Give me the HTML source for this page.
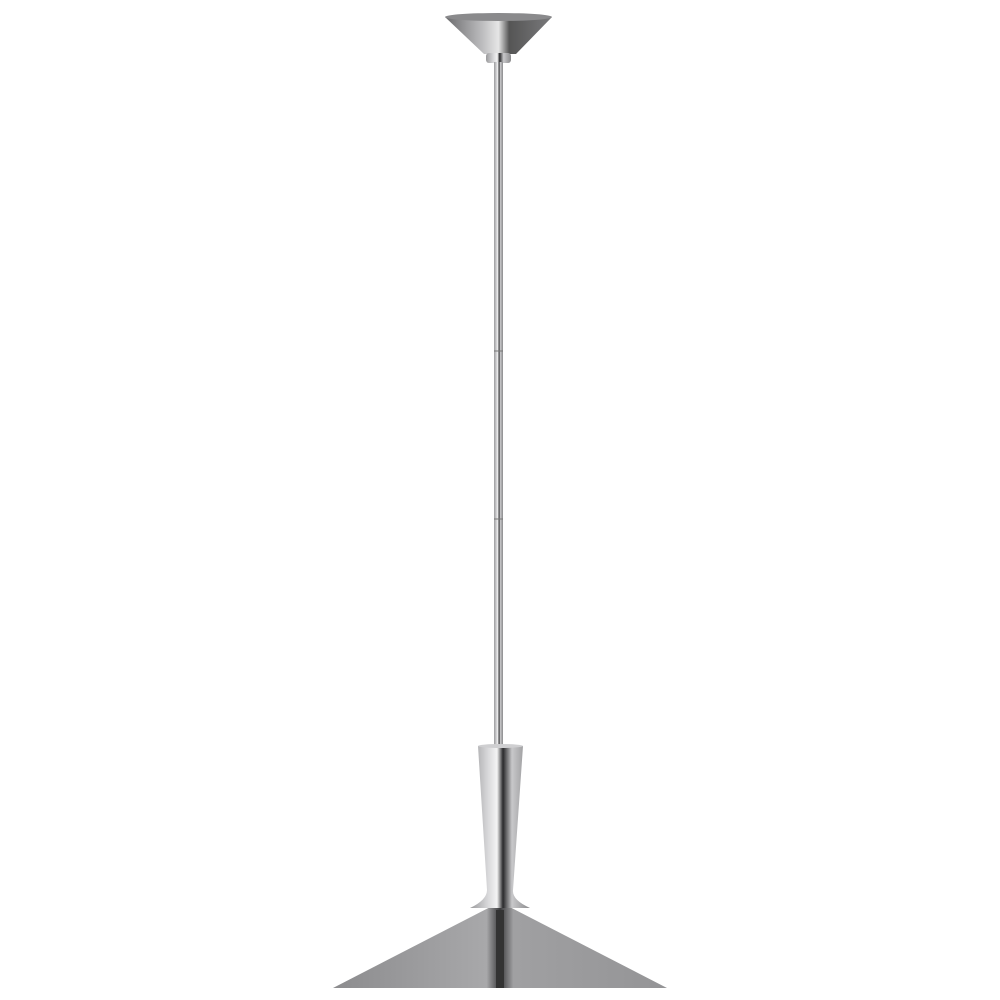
<!DOCTYPE html>
<html><head><style>html,body{margin:0;padding:0;background:#fff;width:1000px;height:1000px;overflow:hidden}</style></head>
<body>
<svg width="1000" height="1000" viewBox="0 0 1000 1000" xmlns="http://www.w3.org/2000/svg">
<defs>
<linearGradient id="m" x1="0" x2="1" y1="0" y2="0">
<stop offset="0" stop-color="#9a9a9c"/><stop offset="0.3" stop-color="#d8d8da"/><stop offset="0.45" stop-color="#f4f4f4"/><stop offset="0.55" stop-color="#2a2a2c"/><stop offset="0.7" stop-color="#c8c8ca"/><stop offset="1" stop-color="#8a8a8c"/>
</linearGradient>
<linearGradient id="c" x1="0" x2="1">
<stop offset="0" stop-color="#6a6a6c"/><stop offset="0.35" stop-color="#bdbdbf"/><stop offset="0.5" stop-color="#e6e6e6"/><stop offset="0.6" stop-color="#555"/><stop offset="1" stop-color="#7a7a7c"/>
</linearGradient>
<linearGradient id="s" x1="0" x2="1">
<stop offset="0" stop-color="#8c8c8e"/><stop offset="0.46" stop-color="#a8a8aa"/><stop offset="0.5" stop-color="#3a3a3c"/><stop offset="0.54" stop-color="#a0a0a2"/><stop offset="1" stop-color="#949496"/>
</linearGradient>
</defs>
<!-- canopy -->
<polygon points="445,17 552,17 516,54 484,54" fill="url(#c)"/>
<ellipse cx="498.5" cy="17" rx="53.5" ry="4" fill="#8a8a8c"/>
<rect x="486" y="53" width="25" height="10" rx="3" fill="url(#m)"/>
<!-- stem -->
<rect x="494" y="62" width="9" height="686" fill="url(#m)"/>
<line x1="494" y1="351" x2="503" y2="351" stroke="#777" stroke-width="1"/>
<line x1="494" y1="519" x2="503" y2="519" stroke="#777" stroke-width="1"/>
<!-- shade -->
<path d="M500,902 L333,988 L667,988 Z" fill="url(#s)"/>
<!-- cone -->
<path d="M478,746 L523,746 L513,890 Q512,900 530,908 L470,908 Q487,900 487,890 Z" fill="url(#m)"/>
<ellipse cx="500.5" cy="746" rx="22.5" ry="2" fill="#cfcfd1"/>
<rect x="496" y="910" width="8" height="78" fill="#333"/>
</svg>
</body></html>
